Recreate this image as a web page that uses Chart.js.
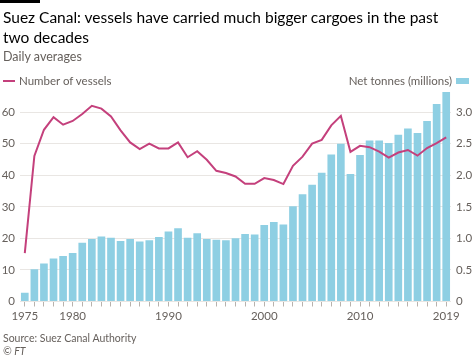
<!DOCTYPE html>
<html>
<head>
<meta charset="utf-8">
<script src="https://cdn.jsdelivr.net/npm/chart.js@4.4.0/dist/chart.umd.min.js"></script>
<style>
  html, body { margin: 0; padding: 0; background: #ffffff; }
  #wrap { position: relative; width: 474px; height: 356px; overflow: hidden; font-family: Lato, "Open Sans", sans-serif; }
  #c { position: absolute; left: 0; top: 0; }
  .t { position: absolute; white-space: nowrap; }
  #bar { position: absolute; left: 0; top: 0; width: 40px; height: 3px; background: #000; }
  #title { left: 3px; top: 7px; font-size: 15.5px; line-height: 20px; color: #000; }
  #sub { left: 3px; top: 49px; font-size: 12.5px; color: #66605c; }
  #legL { left: 3px; top: 74px; font-size: 11.5px; color: #66605c; }
  #legL span.sw { display: inline-block; width: 12px; height: 2px; background: #c4407c; vertical-align: middle; margin-right: 4px; position: relative; top: -1px; }
  #legR { right: 5px; top: 74px; font-size: 11.5px; color: #66605c; }
  #legR span.sw { display: inline-block; width: 13px; height: 6px; background: #8ecfe3; vertical-align: middle; margin-left: 4px; position: relative; top: -1px; }
  #src { left: 3px; top: 332px; font-size: 10.5px; color: #66605c; }
  #ft { left: 3px; top: 345px; font-size: 10.5px; color: #66605c; font-style: italic; }
</style>
</head>
<body>
<div id="wrap">
  <canvas id="c" width="474" height="356"></canvas>
  <div id="bar"></div>
  <div class="t" id="title">Suez Canal: vessels have carried much bigger cargoes in the past<br>two decades</div>
  <div class="t" id="sub">Daily averages</div>
  <div class="t" id="legL"><span class="sw"></span>Number of vessels</div>
  <div class="t" id="legR">Net tonnes (millions)<span class="sw"></span></div>
  <div class="t" id="src">Source: Suez Canal Authority</div>
  <div class="t" id="ft">© FT</div>
</div>
<script>
const years = [1975,1976,1977,1978,1979,1980,1981,1982,1983,1984,1985,1986,1987,1988,1989,1990,1991,1992,1993,1994,1995,1996,1997,1998,1999,2000,2001,2002,2003,2004,2005,2006,2007,2008,2009,2010,2011,2012,2013,2014,2015,2016,2017,2018,2019];
const netTonnes = [0.14,0.51,0.60,0.68,0.72,0.77,0.93,0.99,1.03,1.01,
                   0.96,0.99,0.95,0.97,1.02,1.11,1.16,1.01,1.08,0.99,
                   0.98,0.97,1.00,1.07,1.06,1.21,1.26,1.22,1.51,1.70,
                   1.85,2.04,2.33,2.50,2.02,2.32,2.55,2.55,2.51,2.64,
                   2.74,2.67,2.86,3.13,3.32];
const vessels = [15.3,46.1,54.4,58.4,56.0,57.2,59.4,62.0,61.1,58.6,
                 54.2,50.4,48.3,50.0,48.5,48.5,50.4,45.7,47.6,44.9,
                 41.4,40.7,39.6,37.3,37.3,39.1,38.5,37.2,43.0,45.9,
                 50.0,51.2,55.8,58.8,47.4,49.3,48.9,47.5,45.6,47.2,
                 48.0,46.2,48.6,50.2,52.0];
const xTickLabels = [1975,1980,1990,2000,2010,2019];
const leftTicks = [0,10,20,30,40,50,60];
const rightTicks = [0,0.5,1.0,1.5,2.0,2.5,3.0];

const textGrey = '#66605c';
const tickFont = { family: 'Lato, "Open Sans", sans-serif', size: 11.5 };

new Chart(document.getElementById('c'), {
  data: {
    labels: years.map(String),
    datasets: [
      {
        type: 'line',
        label: 'Number of vessels',
        data: vessels,
        yAxisID: 'y',
        borderColor: '#c4407c',
        borderWidth: 2,
        pointRadius: 0,
        tension: 0,
        order: 0
      },
      {
        type: 'bar',
        label: 'Net tonnes (millions)',
        data: netTonnes,
        yAxisID: 'y2',
        backgroundColor: '#8ecfe3',
        barPercentage: 0.8,
        categoryPercentage: 1.0,
        order: 1
      }
    ]
  },
  options: {
    responsive: false,
    animation: false,
    layout: { padding: { top: 90, bottom: 30.5, left: 0, right: 0 } },
    plugins: { legend: { display: false }, tooltip: { enabled: false } },
    scales: {
      x: {
        type: 'category',
        offset: true,
        grid: { display: true, offset: false, drawOnChartArea: false, drawTicks: true, tickLength: 5, color: '#b8b2ad' },
        border: { display: false },
        ticks: {
          autoSkip: false, maxRotation: 0, minRotation: 0, padding: 3,
          color: textGrey, font: tickFont,
          callback: function(v, i) { const y = years[i]; return xTickLabels.includes(y) ? String(y) : ''; }
        },
        afterFit: function(s) { s.height = 24; }
      },
      y: {
        position: 'left',
        min: 0, max: 67,
        afterBuildTicks: function(s) { s.ticks = leftTicks.map(v => ({ value: v })); },
        grid: { color: '#e9e6e3', drawTicks: false, lineWidth: 1 },
        border: { display: false },
        ticks: { color: textGrey, font: tickFont, padding: 5 },
        afterFit: function(s) { s.width = 20; }
      },
      y2: {
        position: 'right',
        min: 0, max: 3.35,
        afterBuildTicks: function(s) { s.ticks = rightTicks.map(v => ({ value: v })); },
        grid: { drawOnChartArea: false, drawTicks: false },
        border: { display: false },
        ticks: { color: textGrey, font: tickFont, padding: 5,
          callback: function(v) { return v === 0 ? '0' : v.toFixed(1); } },
        afterFit: function(s) { s.width = 23; }
      }
    }
  }
});
</script>
</body>
</html>
